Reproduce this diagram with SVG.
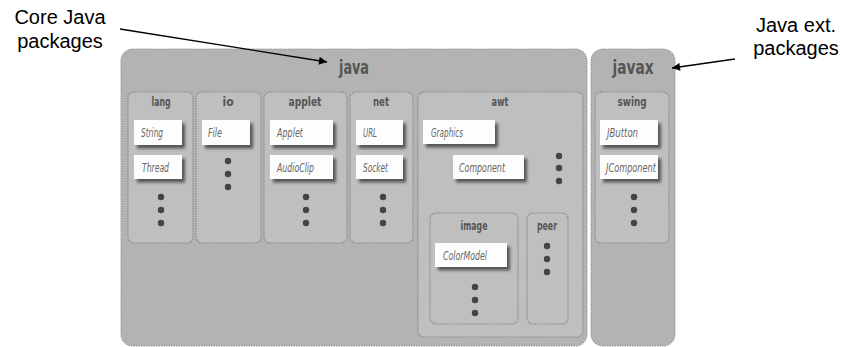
<svg xmlns="http://www.w3.org/2000/svg" width="844" height="347" viewBox="0 0 844 347">
<defs>
<filter id="sh" x="-20%" y="-30%" width="150%" height="180%">
<feDropShadow dx="3" dy="3.5" stdDeviation="1.8" flood-color="#3a3a3a" flood-opacity="0.8"/>
</filter>
<marker id="ah" viewBox="0 0 10 10" refX="10" refY="5" markerWidth="10" markerHeight="8" markerUnits="userSpaceOnUse" orient="auto">
<path d="M0,0 L10,5 L0,10 z" fill="#000"/>
</marker>
</defs>
<style>
.outer{fill:#b3b3b3;stroke:#9a9a9a;stroke-width:1.2;stroke-dasharray:1.5 1}
.pkg{fill:#bfbfbf;stroke:#8a8a8a;stroke-width:1.2;stroke-dasharray:1.5 1}
.cls{fill:#fdfdfd;filter:url(#sh)}
.big{font-family:"DejaVu Sans Condensed","DejaVu Sans",sans-serif;font-weight:bold;font-size:19px;fill:#555;text-anchor:middle}
.lbl{font-family:"DejaVu Sans Condensed","DejaVu Sans",sans-serif;font-weight:bold;font-size:12px;fill:#555;text-anchor:middle}
.ct{font-family:"DejaVu Sans Condensed","DejaVu Sans",sans-serif;font-style:italic;font-size:13px;fill:#666}
.dot{fill:#444}
.ann{font-family:"Liberation Sans",Arial,sans-serif;font-size:20px;fill:#000;text-anchor:middle}
.arr{stroke:#000;stroke-width:1.3;fill:none;marker-end:url(#ah)}
</style>

<g id="java">
<rect class="outer" x="121" y="49" width="466" height="297" rx="12"/>
<text class="big" x="354" y="74" textLength="30" lengthAdjust="spacingAndGlyphs">java</text>
</g>
<g id="javax">
<rect class="outer" x="591" y="49" width="84" height="297" rx="12"/>
<text class="big" x="633" y="74" textLength="41" lengthAdjust="spacingAndGlyphs">javax</text>
</g>

<g id="lang">
<rect class="pkg" x="128" y="92" width="65" height="151" rx="6"/>
<text class="lbl" x="161" y="106" textLength="19" lengthAdjust="spacingAndGlyphs">lang</text>
<rect class="cls" x="134" y="120" width="48" height="25"/>
<text class="ct" x="141" y="137" textLength="22" lengthAdjust="spacingAndGlyphs">String</text>
<rect class="cls" x="134" y="155" width="48" height="24"/>
<text class="ct" x="142" y="172" textLength="27" lengthAdjust="spacingAndGlyphs">Thread</text>
<circle class="dot" cx="161" cy="197" r="3.2"/><circle class="dot" cx="161" cy="210" r="3.2"/><circle class="dot" cx="161" cy="223" r="3.2"/>
</g>

<g id="io">
<rect class="pkg" x="196" y="92" width="65" height="151" rx="6"/>
<text class="lbl" x="228" y="106">io</text>
<rect class="cls" x="202" y="120" width="48" height="25"/>
<text class="ct" x="208" y="137" textLength="14" lengthAdjust="spacingAndGlyphs">File</text>
<circle class="dot" cx="228" cy="161" r="3.2"/><circle class="dot" cx="228" cy="174" r="3.2"/><circle class="dot" cx="228" cy="187" r="3.2"/>
</g>

<g id="applet">
<rect class="pkg" x="264" y="92" width="83" height="151" rx="6"/>
<text class="lbl" x="305" y="106" textLength="33" lengthAdjust="spacingAndGlyphs">applet</text>
<rect class="cls" x="270" y="120" width="63" height="25"/>
<text class="ct" x="277" y="137" textLength="26" lengthAdjust="spacingAndGlyphs">Applet</text>
<rect class="cls" x="270" y="155" width="63" height="24"/>
<text class="ct" x="277" y="172" textLength="37" lengthAdjust="spacingAndGlyphs">AudioClip</text>
<circle class="dot" cx="306" cy="197" r="3.2"/><circle class="dot" cx="306" cy="210" r="3.2"/><circle class="dot" cx="306" cy="223" r="3.2"/>
</g>

<g id="net">
<rect class="pkg" x="350" y="92" width="63" height="151" rx="6"/>
<text class="lbl" x="381" y="106" textLength="16" lengthAdjust="spacingAndGlyphs">net</text>
<rect class="cls" x="356" y="120" width="47" height="25"/>
<text class="ct" x="363" y="137" textLength="14" lengthAdjust="spacingAndGlyphs">URL</text>
<rect class="cls" x="356" y="155" width="47" height="24"/>
<text class="ct" x="363" y="172" textLength="25" lengthAdjust="spacingAndGlyphs">Socket</text>
<circle class="dot" cx="383" cy="197" r="3.2"/><circle class="dot" cx="383" cy="210" r="3.2"/><circle class="dot" cx="383" cy="223" r="3.2"/>
</g>

<g id="awt">
<rect class="pkg" x="418" y="92" width="165" height="245" rx="6"/>
<text class="lbl" x="500" y="106" textLength="17" lengthAdjust="spacingAndGlyphs">awt</text>
<rect class="cls" x="423" y="120" width="72" height="24"/>
<text class="ct" x="431" y="137" textLength="32" lengthAdjust="spacingAndGlyphs">Graphics</text>
<rect class="cls" x="453" y="155" width="71" height="24"/>
<text class="ct" x="459" y="172" textLength="46" lengthAdjust="spacingAndGlyphs">Component</text>
<circle class="dot" cx="559" cy="156" r="3.2"/><circle class="dot" cx="559" cy="168" r="3.2"/><circle class="dot" cx="559" cy="181" r="3.2"/>
</g>

<g id="image">
<rect class="pkg" x="430" y="213" width="88" height="111" rx="6"/>
<text class="lbl" x="474" y="230" textLength="27" lengthAdjust="spacingAndGlyphs">image</text>
<rect class="cls" x="435" y="243" width="72" height="24"/>
<text class="ct" x="443" y="260" textLength="44" lengthAdjust="spacingAndGlyphs">ColorModel</text>
<circle class="dot" cx="475" cy="287" r="3.2"/><circle class="dot" cx="475" cy="300" r="3.2"/><circle class="dot" cx="475" cy="313" r="3.2"/>
</g>

<g id="peer">
<rect class="pkg" x="527" y="213" width="41" height="111" rx="6"/>
<text class="lbl" x="547" y="230" textLength="20" lengthAdjust="spacingAndGlyphs">peer</text>
<circle class="dot" cx="547" cy="246" r="3.2"/><circle class="dot" cx="547" cy="259" r="3.2"/><circle class="dot" cx="547" cy="272" r="3.2"/>
</g>

<g id="swing">
<rect class="pkg" x="595" y="92" width="74" height="151" rx="6"/>
<text class="lbl" x="632" y="106" textLength="29" lengthAdjust="spacingAndGlyphs">swing</text>
<rect class="cls" x="600" y="120" width="58" height="25"/>
<text class="ct" x="607" y="137" textLength="31" lengthAdjust="spacingAndGlyphs">JButton</text>
<rect class="cls" x="600" y="155" width="58" height="24"/>
<text class="ct" x="606" y="172" textLength="50" lengthAdjust="spacingAndGlyphs">JComponent</text>
<circle class="dot" cx="634" cy="197" r="3.2"/><circle class="dot" cx="634" cy="210" r="3.2"/><circle class="dot" cx="634" cy="223" r="3.2"/>
</g>

<g id="core-note">
<text class="ann" x="60" y="24">Core Java</text>
<text class="ann" x="60" y="48">packages</text>
</g>
<g id="ext-note">
<text class="ann" x="796" y="32">Java ext.</text>
<text class="ann" x="796" y="55">packages</text>
</g>

<g id="connectors">
<line class="arr" x1="120" y1="29" x2="327" y2="62"/>
<line class="arr" x1="735" y1="59" x2="672" y2="68"/>
</g>
</svg>
